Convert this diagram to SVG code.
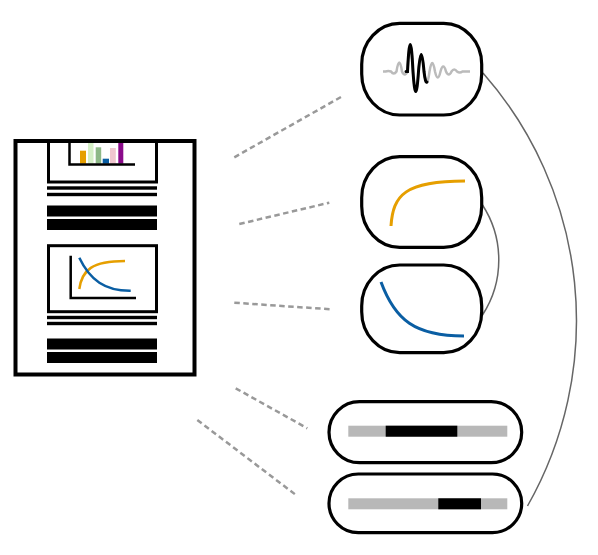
<svg xmlns="http://www.w3.org/2000/svg" width="598" height="555" viewBox="0 0 598 555">
<style>
.node{fill:#fff;stroke:#000;stroke-width:3.2}
.dash{fill:none;stroke:#999;stroke-width:2.5;stroke-dasharray:5.5 3.5}
.link{fill:none;stroke:#666;stroke-width:1.5}
.ax{fill:none;stroke:#000;stroke-width:2.5}
.blk{fill:#000}
</style>
<rect width="598" height="555" fill="#fff"/>
<g id="connectors">
<path class="dash" d="M234.3,157.3 L343.3,95.7"/>
<path class="dash" d="M239.3,224 L329.3,202.7"/>
<path class="dash" d="M234.3,302.7 L330.7,309.3"/>
<path class="dash" d="M235.7,388.3 L307.3,428.3"/>
<path class="dash" d="M197.3,420 L297.3,496"/>
<path class="link" d="M483,73 A375,375 0 0 1 527.5,506"/>
<path class="link" d="M482.5,205 A101,101 0 0 1 482.5,315"/>
</g>
<g id="document">
<rect x="15.5" y="141" width="179" height="233.5" fill="#fff" stroke="#000" stroke-width="4"/>
<path d="M48.5,143 V182 H156.5 V143" fill="none" stroke="#000" stroke-width="3"/>
<rect x="80" y="150.7" width="6" height="13" fill="#E69F00"/>
<rect x="88" y="143" width="5.5" height="20.7" fill="#d4efc6"/>
<rect x="95.7" y="147.3" width="5.5" height="16.4" fill="#8db887"/>
<rect x="102.7" y="158.7" width="6.3" height="5" fill="#0a5ea3"/>
<rect x="110" y="148" width="5.8" height="15.7" fill="#f0c6cf"/>
<rect x="118.3" y="143" width="5" height="20.7" fill="#8a0a8a"/>
<path class="ax" d="M69.5,143 V164.5 H135"/>
<rect class="blk" x="47" y="186.3" width="110" height="3.4"/>
<rect class="blk" x="47" y="192.8" width="110" height="3.4"/>
<rect class="blk" x="47" y="205.5" width="110" height="11"/>
<rect class="blk" x="47" y="219" width="110" height="11"/>
<rect x="48.5" y="245.7" width="108" height="66" fill="#fff" stroke="#000" stroke-width="3"/>
<path class="ax" d="M70.7,255.7 V298 H136"/>
<path d="M79.3,289 C82,270 92,261 125,261" fill="none" stroke="#E69F00" stroke-width="2.5"/>
<path d="M79.3,257.7 C90,280 105,291 130.7,290.7" fill="none" stroke="#0a5ea3" stroke-width="2.5"/>
<rect class="blk" x="47" y="315.8" width="110" height="3.4"/>
<rect class="blk" x="47" y="321.8" width="110" height="3.4"/>
<rect class="blk" x="47" y="338.5" width="110" height="11"/>
<rect class="blk" x="47" y="352" width="110" height="11"/>
</g>
<g id="node-wave">
<rect class="node" x="361.7" y="23.3" width="120" height="91.7" rx="38" ry="41"/>
<path d="M383,71.5 L385.5,71.5 Q388.25,70.5 391,71.5 Q393.75,75.5 396.5,71.5 Q399.25,53.5 402,71.5 Q404.75,77.5 407.5,71.5 Q410.25,17.5 413,71.5 Q415.75,111.5 418.5,71.5 Q421.25,37.5 424,71.5 Q426.75,93.5 429.5,71.5 Q432.25,54.5 435,71.5 Q437.75,83.5 440.5,71.5 Q443.25,61.5 446,71.5 Q448.75,77.5 451.5,71.5 Q454.25,67.5 457,71.5 Q459.75,73.5 462.5,71.5 L470,71.5" fill="none" stroke="#bbb" stroke-width="2.5"/>
<path d="M406,71.5 L407.5,71.5 Q410.25,17.5 413,71.5 Q415.75,111.5 418.5,71.5 Q421.25,37.5 424,71.5 Q425.5,84 427,82" fill="none" stroke="#000" stroke-width="3" stroke-linecap="round"/>
</g>
<g id="node-rise">
<rect class="node" x="361.7" y="156.7" width="120" height="90.6" rx="38" ry="41"/>
<path d="M391,226 C393,195 405,181 465,181" fill="none" stroke="#E69F00" stroke-width="3"/>
</g>
<g id="node-decay">
<rect class="node" x="361.7" y="265" width="120" height="87.7" rx="38" ry="41"/>
<path d="M381,282 C395,320 415,336 464,336" fill="none" stroke="#0a5ea3" stroke-width="3"/>
</g>
<g id="node-seq1">
<rect class="node" x="329" y="401.7" width="192.7" height="61" rx="30.5"/>
<rect x="348.3" y="425.7" width="159" height="11" fill="#b8b8b8"/>
<rect class="blk" x="385.7" y="425.7" width="71.6" height="11"/>
</g>
<g id="node-seq2">
<rect class="node" x="329" y="474" width="192.7" height="58.7" rx="29.3"/>
<rect x="348.3" y="498.3" width="159" height="11" fill="#b8b8b8"/>
<rect class="blk" x="438.3" y="498.3" width="42.7" height="11"/>
</g>
</svg>
